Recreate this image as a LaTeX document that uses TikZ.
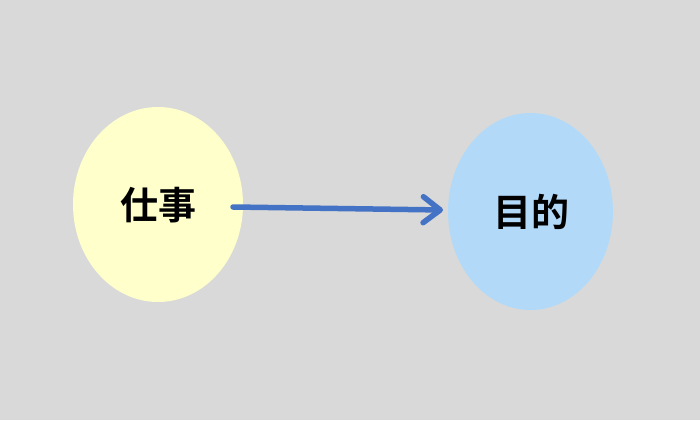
\documentclass[tikz,border=0pt]{standalone}
\usepackage{fontspec}
\newfontfamily\cjk{Noto Sans CJK JP Bold}
\usetikzlibrary{arrows.meta,shapes.geometric}
\definecolor{bg}{HTML}{D9D9D9}
\definecolor{yel}{HTML}{FFFFCC}
\definecolor{blu}{HTML}{B3D9F8}
\definecolor{arr}{HTML}{4472C4}
\tikzset{
  blob/.style={ellipse, draw=none, inner sep=0pt},
  lbl/.style={font=\cjk\fontsize{38}{40}\selectfont, text=black},
  conn/.style={draw=arr, line width=5.5pt, line cap=round,
    -{Straight Barb[length=17pt, width=26pt, line width=5.5pt, round]}}
}
\begin{document}
\begin{tikzpicture}[x=1pt,y=-1pt]
\fill[bg] (0,0) rectangle (700,420);
\useasboundingbox (0,0) rectangle (700,420);
\node[blob, fill=yel, minimum width=170pt, minimum height=195pt] (a) at (158,204.5) {};
\node[blob, fill=blu, minimum width=165pt, minimum height=197pt] (b) at (530.5,211.5) {};
\node[lbl] (ta) at (158,205) {仕事};
\node[lbl] (tb) at (531,212) {目的};
\coordinate (s) at (233,207);
\coordinate (e) at (443,210);
\draw[conn] (s) -- (e);
\end{tikzpicture}
\end{document}
